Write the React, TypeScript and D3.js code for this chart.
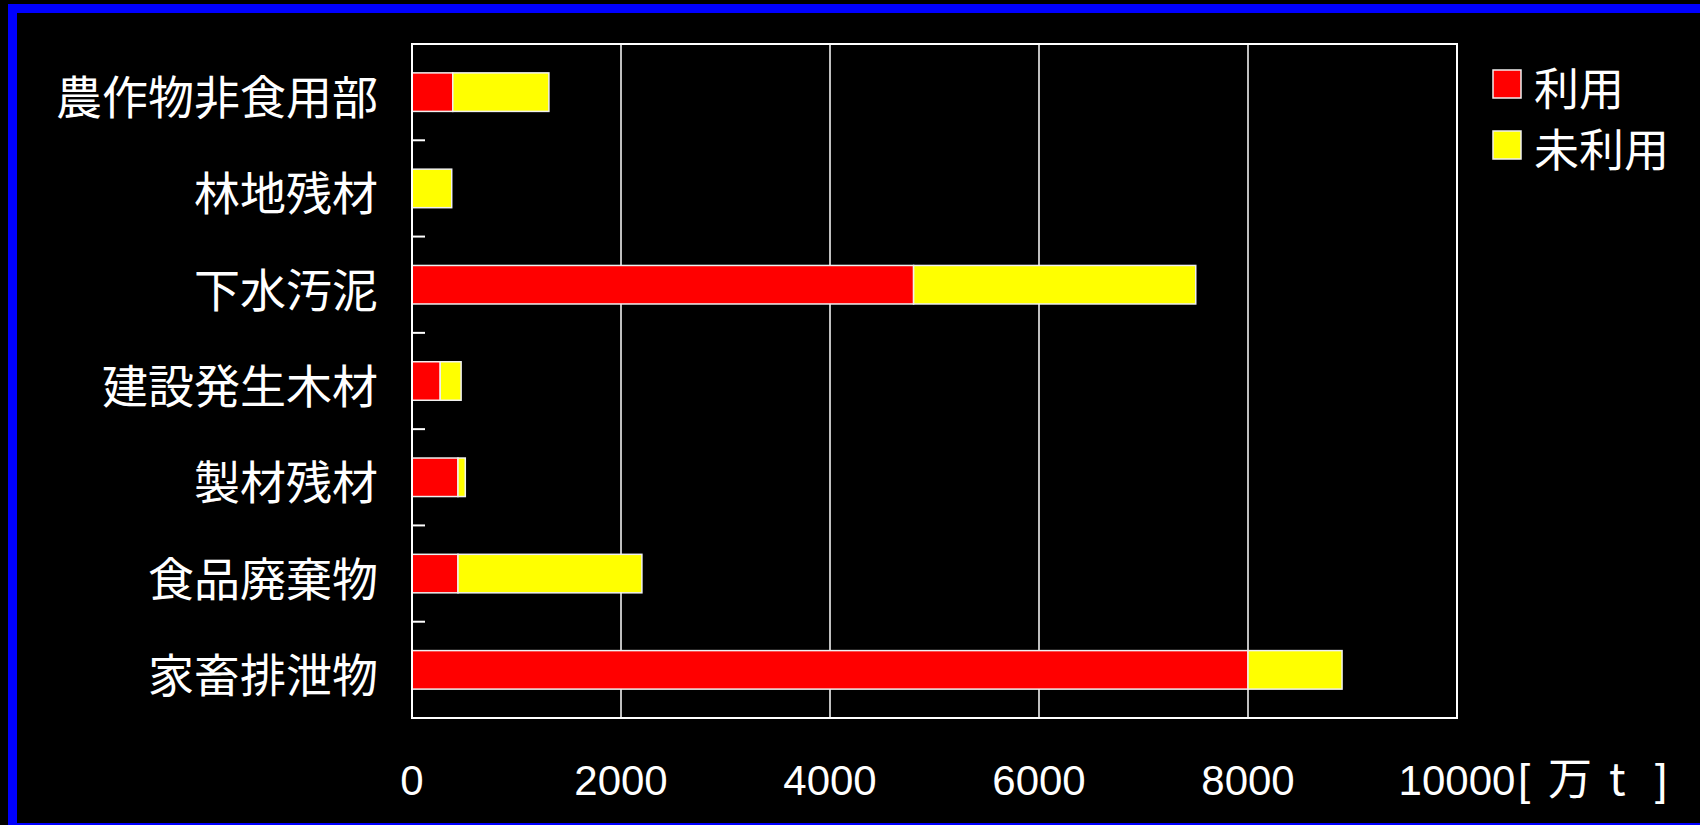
import { useEffect, useRef } from "react";
import * as d3 from "d3";

// data
const categories = ["農作物非食用部", "林地残材", "下水汚泥", "建設発生木材", "製材残材", "食品廃棄物", "家畜排泄物"];
const used = [390, 0, 4800, 270, 440, 440, 8000];
const unused = [920, 380, 2700, 200, 70, 1760, 900];
const xTicks = [0, 2000, 4000, 6000, 8000, 10000];
const seriesNames = ["利用", "未利用"];
const seriesColors = ["#ff0000", "#ffff00"];

const W = 1700;
const H = 825;
const cjk = "'Noto Sans CJK JP', 'Noto Sans', sans-serif";
const latin = "'Liberation Sans', Arial, sans-serif";

export default function App() {
  const ref = useRef<SVGSVGElement>(null);

  useEffect(() => {
    if (!ref.current) return;
    const svg = d3.select(ref.current);
    svg.selectAll("*").remove();

    // background + blue frame
    svg.append("rect").attr("width", W).attr("height", H).attr("fill", "#000");
    svg.append("rect")
      .attr("x", 12.5).attr("y", 8.5)
      .attr("width", W).attr("height", 819)
      .attr("fill", "none").attr("stroke", "#0000ff").attr("stroke-width", 9);

    const left = 412, right = 1457, top = 44, bottom = 718;

    const x = d3.scaleLinear().domain([0, 10000]).range([left, right]);
    const y = d3.scaleBand<string>()
      .domain(categories)
      .range([top, bottom])
      .paddingInner(0.6)
      .paddingOuter(0.3);

    // gridlines
    svg.append("g")
      .selectAll("line")
      .data(xTicks.slice(1, -1))
      .join("line")
      .attr("x1", (d) => x(d)).attr("x2", (d) => x(d))
      .attr("y1", top).attr("y2", bottom)
      .attr("stroke", "#fff").attr("stroke-width", 1.5);

    // stacked bars
    const rows = categories.map((c, i) => ({ cat: c, vals: [used[i], unused[i]] }));
    const segs: { cat: string; x0: number; x1: number; s: number }[] = [];
    rows.forEach((r) => {
      let acc = 0;
      r.vals.forEach((v, s) => {
        if (v > 0) segs.push({ cat: r.cat, x0: acc, x1: acc + v, s });
        acc += v;
      });
    });
    svg.append("g")
      .selectAll("rect")
      .data(segs)
      .join("rect")
      .attr("x", (d) => x(d.x0))
      .attr("y", (d) => y(d.cat)!)
      .attr("width", (d) => x(d.x1) - x(d.x0))
      .attr("height", y.bandwidth())
      .attr("fill", (d) => seriesColors[d.s])
      .attr("stroke", "#f0f0f0")
      .attr("stroke-width", 1.5);

    // plot frame
    svg.append("rect")
      .attr("x", left).attr("y", top)
      .attr("width", right - left).attr("height", bottom - top)
      .attr("fill", "none").attr("stroke", "#fff").attr("stroke-width", 2);

    // category ticks (inward, at band boundaries)
    const step = y.step();
    svg.append("g")
      .selectAll("line")
      .data(d3.range(categories.length + 1))
      .join("line")
      .attr("x1", left).attr("x2", left + 13)
      .attr("y1", (i) => top + i * step).attr("y2", (i) => top + i * step)
      .attr("stroke", "#fff").attr("stroke-width", 2);

    // category labels
    svg.append("g")
      .selectAll("text")
      .data(categories)
      .join("text")
      .attr("x", 378)
      .attr("y", (d) => y(d)! + y.bandwidth() / 2 + 2)
      .attr("dominant-baseline", "central")
      .attr("text-anchor", "end")
      .attr("fill", "#fff")
      .style("font-family", cjk)
      .style("font-size", "46px")
      .text((d) => d);

    // x tick labels
    svg.append("g")
      .selectAll("text")
      .data(xTicks)
      .join("text")
      .attr("x", (d) => x(d))
      .attr("y", 795)
      .attr("text-anchor", "middle")
      .attr("fill", "#fff")
      .style("font-family", latin)
      .style("font-size", "42px")
      .text((d) => d);

    // unit
    const ux = x(10000) + 61;
    const unit = svg.append("text").attr("y", 795).attr("fill", "#fff").style("font-size", "44px");
    unit.append("tspan").attr("x", ux).style("font-family", latin).text("[");
    unit.append("tspan").attr("x", ux + 30).style("font-family", cjk).text("万");
    unit.append("tspan").attr("x", ux + 91).style("font-family", cjk).text("t");
    unit.append("tspan").attr("x", ux + 137).style("font-family", latin).text("]");

    // legend
    const lg = svg.append("g")
      .selectAll("g")
      .data(seriesNames)
      .join("g")
      .attr("transform", (_, i) => `translate(1493,${84 + i * 61})`);
    lg.append("rect")
      .attr("x", 0).attr("y", -14)
      .attr("width", 28).attr("height", 28)
      .attr("fill", (_, i) => seriesColors[i])
      .attr("stroke", "#f0f0f0").attr("stroke-width", 1.5);
    lg.append("text")
      .attr("x", 41).attr("y", 2)
      .attr("dominant-baseline", "central")
      .attr("fill", "#fff")
      .style("font-family", cjk)
      .style("font-size", "45px")
      .text((d) => d);
  }, []);

  return (
    <svg
      ref={ref}
      width={W}
      height={H}
      style={{ position: "absolute", left: 0, top: 0, display: "block" }}
    ></svg>
  );
}
